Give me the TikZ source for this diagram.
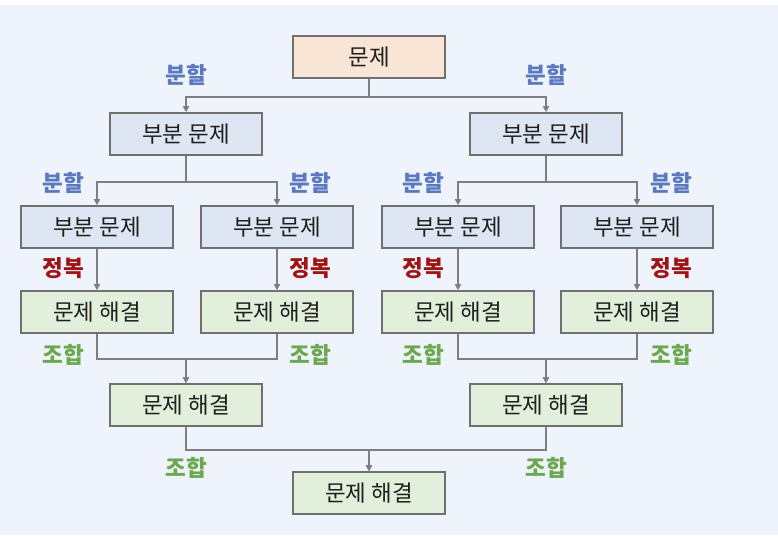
\documentclass[tikz,border=0pt]{standalone}
\usepackage{fontspec}
\setmainfont{Noto Sans CJK KR}
\usetikzlibrary{arrows.meta}

\definecolor{bgblue}{HTML}{EFF3FC}
\definecolor{rootfill}{HTML}{F8E5D5}
\definecolor{subfill}{HTML}{DDE6F2}
\definecolor{solvefill}{HTML}{E2EFDA}
\definecolor{edgegray}{HTML}{707070}
\definecolor{splitblue}{HTML}{5B79C0}
\definecolor{conqred}{HTML}{A01414}
\definecolor{mergegreen}{HTML}{6CA850}

\begin{document}
\begin{tikzpicture}[x=1pt,y=-1pt,
    box/.style={draw=edgegray, line width=1.6pt, minimum width=152pt, minimum height=42pt,
                inner sep=0pt, font=\fontsize{22.5}{26}\selectfont, text=black!88},
    rootbox/.style={box, fill=rootfill},
    subbox/.style={box, fill=subfill},
    solvebox/.style={box, fill=solvefill},
    conn/.style={draw=edgegray!90, line width=1.6pt, -{Triangle[length=6pt,width=6pt]}},
    lab/.style={font=\fontsize{22.5}{26}\selectfont\bfseries},
    split/.style={lab, text=splitblue},
    conq/.style={lab, text=conqred},
    merge/.style={lab, text=mergegreen}]

    % Background
    \useasboundingbox (0,0) rectangle (778,535);
    \fill[white] (0,0) rectangle (778,535);
    \fill[bgblue] (0,5) rectangle (778,535);

    % Define the boxes
    \node[rootbox] (root) at (369,57) {문제};

    \node[subbox] (sL) at (186,134) {부분 문제};
    \node[subbox] (sR) at (546,134) {부분 문제};

    \node[subbox] (sLL) at (97,227) {부분 문제};
    \node[subbox] (sLR) at (277,227) {부분 문제};
    \node[subbox] (sRL) at (458,227) {부분 문제};
    \node[subbox] (sRR) at (637,227) {부분 문제};

    \node[solvebox] (vLL) at (97,312) {문제 해결};
    \node[solvebox] (vLR) at (277,312) {문제 해결};
    \node[solvebox] (vRL) at (458,312) {문제 해결};
    \node[solvebox] (vRR) at (637,312) {문제 해결};

    \node[solvebox] (mL) at (186,405) {문제 해결};
    \node[solvebox] (mR) at (546,405) {문제 해결};

    \node[solvebox] (final) at (369,493) {문제 해결};

    % Divide
    \draw[conn] (root.south) -- ++(0,18) -| (sL.north);
    \draw[conn] (root.south) -- ++(0,18) -| (sR.north);
    \draw[conn] (sL.south) -- ++(0,26) -| (sLL.north);
    \draw[conn] (sL.south) -- ++(0,26) -| (sLR.north);
    \draw[conn] (sR.south) -- ++(0,26) -| (sRL.north);
    \draw[conn] (sR.south) -- ++(0,26) -| (sRR.north);

    % Conquer
    \draw[conn] (sLL) -- (vLL);
    \draw[conn] (sLR) -- (vLR);
    \draw[conn] (sRL) -- (vRL);
    \draw[conn] (sRR) -- (vRR);

    % Combine
    \draw[conn] (vLL.south) -- ++(0,25) -| (mL.north);
    \draw[conn] (vLR.south) -- ++(0,25) -| (mL.north);
    \draw[conn] (vRL.south) -- ++(0,25) -| (mR.north);
    \draw[conn] (vRR.south) -- ++(0,25) -| (mR.north);
    \draw[conn] (mL.south) -- ++(0,23) -| (final.north);
    \draw[conn] (mR.south) -- ++(0,23) -| (final.north);

    % Labels
    \node[split] (d1) at (186,75) {분할};
    \node[split] (d2) at (546,75) {분할};
    \node[split] (d3) at (63,183) {분할};
    \node[split] (d4) at (310,183) {분할};
    \node[split] (d5) at (423,183) {분할};
    \node[split] (d6) at (671,183) {분할};

    \node[conq] (q1) at (63,268) {정복};
    \node[conq] (q2) at (310,268) {정복};
    \node[conq] (q3) at (423,268) {정복};
    \node[conq] (q4) at (671,268) {정복};

    \node[merge] (c1) at (63,355) {조합};
    \node[merge] (c2) at (310,355) {조합};
    \node[merge] (c3) at (423,355) {조합};
    \node[merge] (c4) at (671,355) {조합};
    \node[merge] (c5) at (186,468) {조합};
    \node[merge] (c6) at (546,468) {조합};

\end{tikzpicture}
\end{document}
